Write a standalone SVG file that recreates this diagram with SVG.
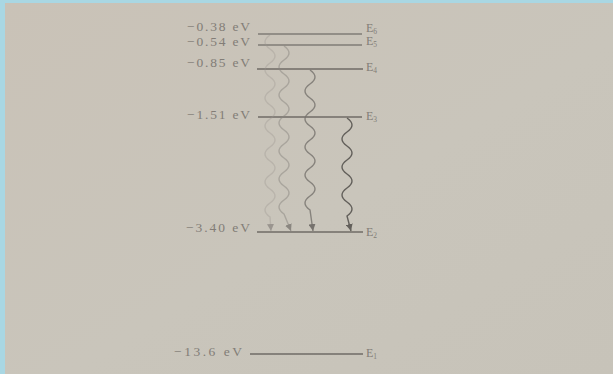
<svg xmlns="http://www.w3.org/2000/svg" width="613" height="374" viewBox="0 0 613 374">
  <defs>
    <linearGradient id="paper" x1="0" y1="0" x2="1" y2="1">
      <stop offset="0" stop-color="#c9c2b7"/>
      <stop offset="0.55" stop-color="#c9c5bb"/>
      <stop offset="1" stop-color="#c7c3b9"/>
    </linearGradient>
    <marker id="ah" viewBox="0 0 10 10" refX="10" refY="5" markerWidth="7" markerHeight="7" markerUnits="userSpaceOnUse" orient="auto">
      <path d="M0,0 L10,5 L0,10 z" fill="context-stroke"/>
    </marker>
    <style>
      .lvl { stroke: #6f6b66; stroke-width: 1.5; fill: none; }
      .val { font-family: "Liberation Serif", serif; font-size: 13.5px; fill: #827d77; text-anchor: end; }
      .lab { font-family: "Liberation Serif", serif; font-size: 12px; fill: #827d77; }
      .sub { font-size: 7.5px; }
      .wave { fill: none; stroke-width: 1.4; }
    </style>
  </defs>
  <rect x="0" y="0" width="613" height="374" fill="#a9d7e3"/>
  <rect x="5" y="3" width="608" height="371" fill="url(#paper)"/>

  <g id="E6">
    <line class="lvl" x1="258" y1="34" x2="362" y2="34" stroke-opacity="0.8"/>
    <text class="val" x="250" y="31" textLength="63" lengthAdjust="spacing">−0.38 eV</text>
    <text class="lab" x="366" y="32">E<tspan class="sub" dy="1.5">6</tspan></text>
  </g>
  <g id="E5">
    <line class="lvl" x1="258" y1="45" x2="362" y2="45" stroke-opacity="0.8"/>
    <text class="val" x="250" y="46" textLength="63" lengthAdjust="spacing">−0.54 eV</text>
    <text class="lab" x="366" y="45">E<tspan class="sub" dy="1.5">5</tspan></text>
  </g>
  <g id="E4">
    <line class="lvl" x1="257" y1="69" x2="363" y2="69"/>
    <text class="val" x="250" y="67" textLength="63" lengthAdjust="spacing">−0.85 eV</text>
    <text class="lab" x="366" y="71">E<tspan class="sub" dy="2">4</tspan></text>
  </g>
  <g id="E3">
    <line class="lvl" x1="258" y1="117" x2="362" y2="117"/>
    <text class="val" x="250" y="119" textLength="63" lengthAdjust="spacing">−1.51 eV</text>
    <text class="lab" x="366" y="120">E<tspan class="sub" dy="2">3</tspan></text>
  </g>
  <g id="E2">
    <line class="lvl" x1="257" y1="232" x2="363" y2="232"/>
    <text class="val" x="250" y="232" textLength="64" lengthAdjust="spacing">−3.40 eV</text>
    <text class="lab" x="366" y="236">E<tspan class="sub" dy="2">2</tspan></text>
  </g>
  <g id="E1">
    <line class="lvl" x1="250" y1="354" x2="363" y2="354"/>
    <text class="val" x="242" y="356" textLength="68" lengthAdjust="spacing">−13.6 eV</text>
    <text class="lab" x="366" y="357">E<tspan class="sub" dy="2">1</tspan></text>
  </g>

  <g id="connectors">
    <path class="wave" stroke="#9a958f" stroke-opacity="0.35" marker-end="url(#ah)"
      d="M270,35 q-10,7 0,14 t0,14 t0,14 t0,14 t0,14 t0,14 t0,14 t0,14 t0,14 t0,14 t0,14 t0,14 t0,14 L271,231"/>
    <path class="wave" stroke="#8a8680" stroke-opacity="0.5" marker-end="url(#ah)"
      d="M284,46 q10,7 0,14 t0,14 t0,14 t0,14 t0,14 t0,14 t0,14 t0,14 t0,14 t0,14 t0,14 t0,14 L291,231"/>
    <path class="wave" stroke="#76726d" stroke-opacity="0.8" marker-end="url(#ah)"
      d="M310,70 q10,7 0,14 t0,14 t0,14 t0,14 t0,14 t0,14 t0,14 t0,14 t0,14 t0,14 L313,231"/>
    <path class="wave" stroke="#63605b" marker-end="url(#ah)"
      d="M347,118 q10,7 0,14 t0,14 t0,14 t0,14 t0,14 t0,14 t0,14 L351,231"/>
  </g>
</svg>
